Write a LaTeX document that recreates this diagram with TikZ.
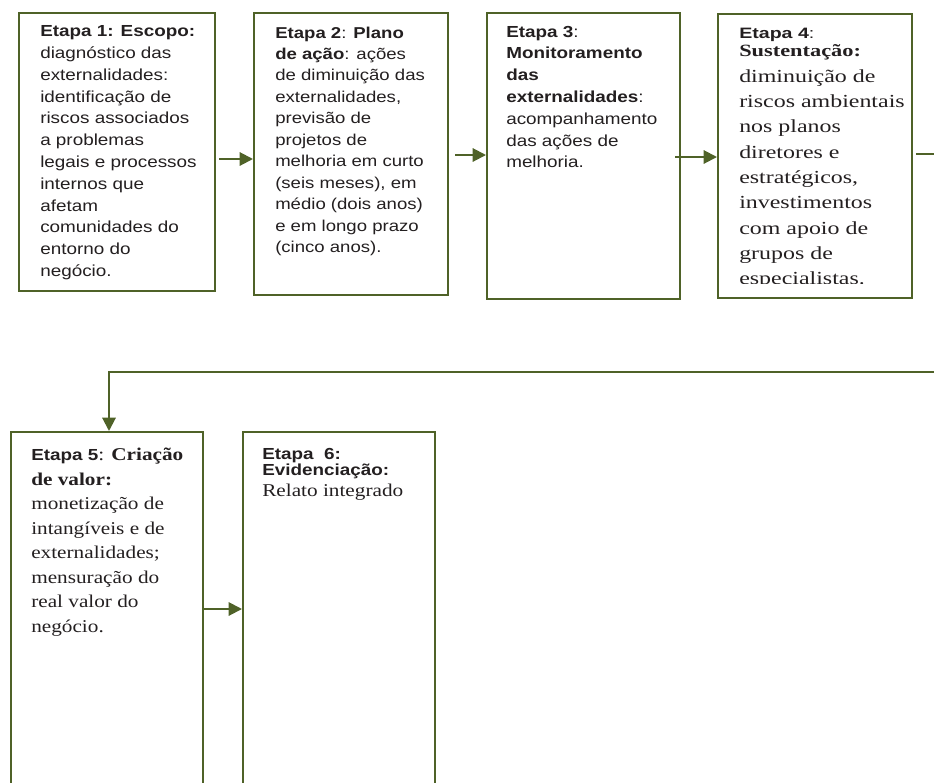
\documentclass[tikz,border=0pt]{standalone}
\usepackage{fontspec}
\usepackage{graphicx}
\setmainfont{Liberation Sans}
\newfontfamily\sansf{Liberation Sans}
\newfontfamily\serf{Liberation Serif}
\usetikzlibrary{arrows.meta,calc}

\definecolor{stageolive}{HTML}{4F6228}
\definecolor{inktext}{HTML}{231F20}

% stage text: fixed line breaks, set in a tabular and widened horizontally
% #1 horizontal widening, #2 font size, #3 line distance, #4 lines
\newcommand{\stagetext}[4]{\scalebox{#1}[1]{\fontsize{#2}{#3}\selectfont\begin{tabular}[t]{@{}l@{}}#4\end{tabular}}}
% serif body text used in the later stages
\newcommand{\tsf}{\serf\fontsize{13.5pt}{15pt}\selectfont}
\newcommand{\tsfb}{\serf\fontsize{13.8pt}{15pt}\selectfont}
\newcommand{\tsfbh}{\serf\bfseries\fontsize{12.9pt}{15pt}\selectfont}

\begin{document}
\begin{tikzpicture}[x=0.75pt,y=-0.75pt,
  stagebox/.style={draw=stageolive, line width=1.5pt, rectangle, inner sep=0pt, anchor=north west},
  stagetxt/.style={inner sep=0pt, anchor=base west, text=inktext},
  flow/.style={draw=stageolive, line width=1.5pt, -{Triangle[length=10pt,width=10pt]}}]
\useasboundingbox (0,0) rectangle (934,782);
\clip (0,0) rectangle (934,782);

% stage frames
\node[stagebox, minimum width=147pt,   minimum height=208.5pt] (b1) at (18,12)  {};
\node[stagebox, minimum width=145.5pt, minimum height=211.5pt] (b2) at (253,12) {};
\node[stagebox, minimum width=144.75pt,minimum height=214.5pt] (b3) at (486,12) {};
\node[stagebox, minimum width=145.5pt, minimum height=213pt]   (b4) at (717,13) {};
\node[stagebox, minimum width=144pt,   minimum height=276.75pt] (b5) at (10,431) {};
\node[stagebox, minimum width=144pt,   minimum height=276.75pt] (b6) at (242,431) {};

% stage texts
\node[stagetxt] (t1) at (40,36.7) {\stagetext{1.18}{12pt}{16.35pt}{%
\textbf{Etapa 1: Escopo:}\\
diagnóstico das\\
externalidades:\\
identificação de\\
riscos associados\\
a problemas\\
legais e processos\\
internos que\\
afetam\\
comunidades do\\
entorno do\\
negócio.}};

\node[stagetxt] (t2) at (275,38) {\stagetext{1.18}{11.8pt}{16.1pt}{%
\textbf{Etapa 2}: \textbf{Plano}\\
\textbf{de ação}: ações\\
de diminuição das\\
externalidades,\\
previsão de\\
projetos de\\
melhoria em curto\\
(seis meses), em\\
médio (dois anos)\\
e em longo prazo\\
(cinco anos).}};

\node[stagetxt] (t3) at (506,37) {\stagetext{1.18}{12pt}{16.35pt}{%
\textbf{Etapa 3}:\\
\textbf{Monitoramento}\\
\textbf{das}\\
\textbf{externalidades}:\\
acompanhamento\\
das ações de\\
melhoria.}};

% the text of stage 4 runs past its frame and is cut off at the last line
\begin{scope}
\clip (b4.north west) rectangle (911,283.5);
\node[stagetxt] (t4) at (739,38.3) {\stagetext{1.3}{11.3pt}{13.8pt}{%
\textbf{Etapa 4}:\\
{\tsfbh Sustentação:}\\[5.2pt]
{\tsfb diminuição de}\\[5.2pt]
{\tsfb riscos ambientais}\\[5.2pt]
{\tsfb nos planos}\\[5.2pt]
{\tsfb diretores e}\\[5.2pt]
{\tsfb estratégicos,}\\[5.2pt]
{\tsfb investimentos}\\[5.2pt]
{\tsfb com apoio de}\\[5.2pt]
{\tsfb grupos de}\\[5.2pt]
{\tsfb especialistas.}}};
\end{scope}

\node[stagetxt] (t5) at (31,460.5) {\stagetext{1.18}{12pt}{18.4pt}{%
\textbf{Etapa 5}{\tsf: \bfseries Criação}\\
{\tsf\bfseries de valor:}\\
{\tsf monetização de}\\
{\tsf intangíveis e de}\\
{\tsf externalidades;}\\
{\tsf mensuração do}\\
{\tsf real valor do}\\
{\tsf negócio.}}};

\node[stagetxt] (t6) at (262,459) {\stagetext{1.18}{12pt}{12pt}{%
\textbf{Etapa\ \ 6:}\\
\textbf{Evidenciação:}\\[3pt]
{\tsf Relato integrado}}};

% connectors between stages
\draw[flow] ($(b1.east |- 0,159)+(3,0)$) -- (b2.west |- 0,159);
\draw[flow] ($(b2.east |- 0,155)+(6,0)$) -- (b3.west |- 0,155);
\draw[flow] ($(b3.east |- 0,157)+(-6,0)$) -- (b4.west |- 0,157);
\draw[flow] ($(b4.east |- 0,154)+(3,0)$) -| (950,372) -| ($(b5.north)+(2,0)$);
\draw[flow] (b5.east |- 0,609) -- (b6.west |- 0,609);
\end{tikzpicture}
\end{document}
